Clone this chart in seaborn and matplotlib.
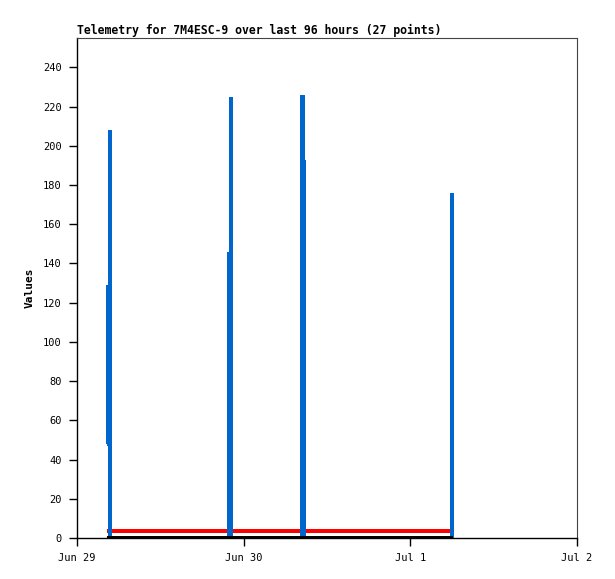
import matplotlib
matplotlib.use("Agg")
import matplotlib.pyplot as plt
import seaborn as sns
import pandas as pd

# ---- data ----
times = [
    "2024-06-29 04:23:30", "2024-06-29 04:26:00", "2024-06-29 04:45:00", "2024-06-29 04:48:00",
    "2024-06-29 08:00:00", "2024-06-29 12:00:00", "2024-06-29 16:00:00", "2024-06-29 20:00:00",
    "2024-06-29 21:52:00", "2024-06-29 21:56:00", "2024-06-29 22:08:00", "2024-06-29 22:11:00",
    "2024-06-30 02:00:00", "2024-06-30 04:00:00", "2024-06-30 06:00:00",
    "2024-06-30 08:18:00", "2024-06-30 08:21:30", "2024-06-30 08:25:40", "2024-06-30 08:31:00",
    "2024-06-30 08:39:30",
    "2024-06-30 12:00:00", "2024-06-30 16:00:00", "2024-06-30 20:00:00", "2024-07-01 00:00:00",
    "2024-07-01 04:00:00",
    "2024-07-01 05:54:00", "2024-07-01 05:57:30",
]
values = [
    48, 128, 208, 0,
    0, 0, 0, 0,
    0, 145, 225, 0,
    0, 0, 0,
    0, 104, 225, 192, 0,
    0, 0, 0, 0, 0,
    0, 176,
]
ref_level = 3.7   # red reference line
base_level = 0    # black baseline
x_ticks = ["2024-06-29", "2024-06-30", "2024-07-01", "2024-07-02"]
x_tick_labels = ["Jun 29", "Jun 30", "Jul 1", "Jul 2"]
y_ticks = list(range(0, 241, 20))

df = pd.DataFrame({"time": pd.to_datetime(times), "value": values})
t0, t1 = df["time"].iloc[0], df["time"].iloc[-1]

sns.set_style("ticks")
plt.rcParams["font.family"] = ["DejaVu Sans Mono", "DejaVu Sans"]
plt.rcParams["text.color"] = "black"
plt.rcParams["axes.labelcolor"] = "black"

fig = plt.figure(figsize=(6.15, 5.79), dpi=100)
ax = fig.add_axes([77/615, 41/579, 500/615, 500/579])

sns.lineplot(data=df, x="time", y="value", ax=ax, color="#0066cc", linewidth=1.45,
             zorder=3, estimator=None, drawstyle="steps-post", antialiased=False,
             solid_joinstyle="miter", solid_capstyle="butt")
ax.plot([t0, t1], [ref_level, ref_level], color="#ff0000", linewidth=1.45, zorder=2,
        antialiased=False, solid_capstyle="butt")
ax.plot([t0, t1], [base_level, base_level], color="black", linewidth=2.2, zorder=4,
        antialiased=False, solid_capstyle="butt")

ax.set_xlim(pd.Timestamp(x_ticks[0]), pd.Timestamp(x_ticks[-1]))
ax.set_ylim(0, 255)
ax.set_xticks(pd.to_datetime(x_ticks))
ax.set_xticklabels(x_tick_labels)
ax.set_yticks(y_ticks)

ax.tick_params(axis="both", direction="out", length=6, width=1, colors="black",
               labelsize=7.5, pad=5)
for s in ["left", "bottom"]:
    ax.spines[s].set_color("black")
    ax.spines[s].set_linewidth(1)
for s in ["top", "right"]:
    ax.spines[s].set_color("#444444")
    ax.spines[s].set_linewidth(0.8)

ax.set_xlabel("")
ax.set_ylabel("Values", fontsize=8, fontweight="bold", labelpad=6, color="black")
ax.set_title("Telemetry for 7M4ESC-9 over last 96 hours (27 points)", loc="left",
             fontsize=8.3, fontweight="bold", pad=3, color="black")

fig.savefig("out.png", dpi=100, facecolor="white")
